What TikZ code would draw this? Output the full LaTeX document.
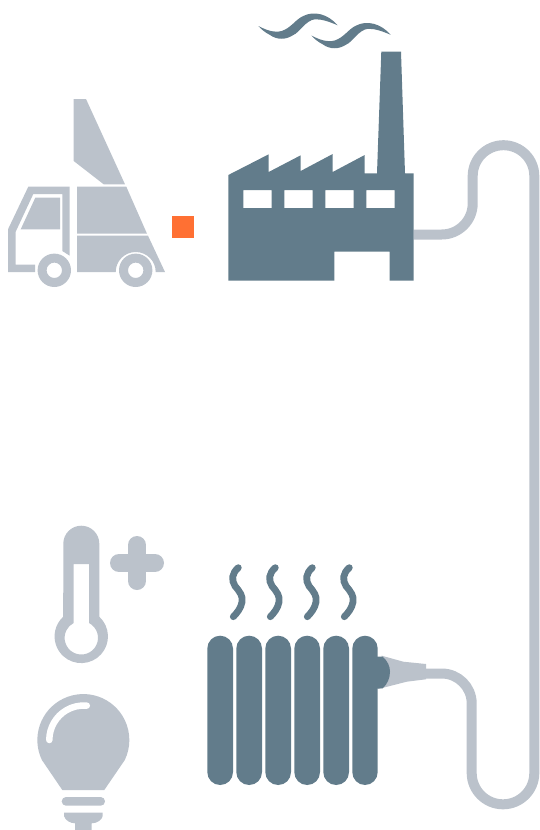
\documentclass[tikz,border=0pt]{standalone}
\definecolor{greyblue}{HTML}{BBC2CB}
\definecolor{slateblue}{HTML}{627C8B}
\definecolor{accent}{HTML}{FF7033}
\tikzset{
  x=1pt,y=1pt,
  lightshape/.style={fill=greyblue,draw=none},
  darkshape/.style={fill=slateblue,draw=none},
  pipeline/.style={draw=greyblue,line width=10pt,line cap=butt},
  heatline/.style={draw=slateblue,line width=6.8pt,line cap=round},
  plusbar/.style={draw=greyblue,line width=18pt,line cap=round},
  smokewave/.pic={\fill[slateblue] (258.3,-26) .. controls (266,-30) and (274,-33) .. (281.7,-31) .. controls (291,-28) and (296,-19) .. (303.3,-16) .. controls (314,-10.5) and (328,-14) .. (337.7,-25.3) .. controls (330,-22) and (322,-19) .. (315,-19.3) .. controls (306,-20) and (299,-33) .. (293.3,-35) .. controls (286,-40) and (277,-40) .. (270,-35) .. controls (265,-32.5) and (261,-29) .. (258.3,-26) -- cycle;},
  steam/.pic={\draw[heatline] (238.3,-567.7) .. controls (232,-573) and (231,-580) .. (235,-586) .. controls (240,-592) and (243,-596) .. (242,-602) .. controls (241,-608) and (237,-613) .. (233.3,-616.7);}
}
\begin{document}
\begin{tikzpicture}
\useasboundingbox (0,0) rectangle (539,-830);
% truck
\fill[lightshape] (73.7,-99) -- (86,-99) -- (125,-184.3) -- (103.7,-184.3) -- (73.7,-161) -- cycle;
\fill[lightshape] (77,-186.7) -- (126.3,-186.7) -- (147,-233.7) -- (77,-233.7) -- cycle;
\fill[lightshape] (77,-235.7) -- (148,-235.7) -- (165,-272) -- (155.7,-272) arc[start angle=0,end angle=180,radius=20pt] -- (77,-272) -- cycle;
\fill[lightshape] (28.3,-186.7) -- (69.7,-186.7) -- (69.7,-255.7) -- (62.3,-251) -- (62.3,-194) -- (33.3,-194) -- (15.7,-231.7) -- (15.7,-264.7) -- (35,-264.7) -- (35,-272) -- (8,-272) -- (8,-229.3) -- cycle;
\fill[lightshape] (35.3,-197.7) -- (60,-197.7) -- (60,-229.3) -- (20.7,-229.3) -- cycle;
\fill[lightshape,even odd rule] (54.3,-270.3) circle[radius=16.7pt] (54.3,-270.3) circle[radius=7.7pt];
\fill[lightshape,even odd rule] (135.7,-270.3) circle[radius=16.7pt] (135.7,-270.3) circle[radius=7.7pt];
% orange square
\fill[accent] (172,-216) rectangle (194,-238);
% pipe
\coordinate (pipeA) at (413.7,-234.5);
\coordinate (pipeB) at (426,-673.5);
\draw[pipeline] (pipeA) -- (441.7,-234.5) arc[start angle=-90,end angle=0,radius=31pt] -- (472.7,-176) arc[start angle=180,end angle=0,radius=30.8pt] -- (534.3,-773) arc[start angle=0,end angle=-180,radius=31.3pt] -- (471.7,-703.5) arc[start angle=0,end angle=90,radius=30pt] -- (pipeB);
% factory
\fill[darkshape,even odd rule] (228.3,-175) -- (268.7,-154.3) -- (268.7,-172) -- (300.7,-155.3) -- (300.7,-171) -- (332.7,-154) -- (332.7,-172) -- (364.7,-155) -- (364.7,-173.3) -- (377,-173.3) -- (381.3,-51.7) -- (401,-51.7) -- (405,-173.3) -- (413.7,-173.3) -- (413.7,-280.7) -- (389.7,-280.7) -- (389.7,-251.7) -- (334.3,-251.7) -- (334.3,-280.7) -- (228.3,-280.7) -- cycle
 (243.3,-190) rectangle (271.7,-208)
 (284.3,-190) rectangle (312.7,-208)
 (325.3,-190) rectangle (353.7,-208)
 (366.3,-190) rectangle (394.7,-208);
\pic at (0,0) {smokewave};
\pic at (53,-9.5) {smokewave};
% radiator
\foreach \xa/\xb in {207.3/233,236.3/262,265.3/291,294.3/320,323.3/349,352.3/377.7}
  \fill[darkshape,rounded corners=12.8pt] (\xa,-635.7) rectangle (\xb,-785);
\foreach \dx in {0,37,74,111}
  \pic at (\dx,0) {steam};
% plug
\fill[lightshape] (381.7,-655.7) -- (403.3,-661.7) -- (426,-664) -- (426,-679.3) -- (406.7,-681.7) -- (378.3,-689) -- cycle;
\fill[darkshape] (377,-656.7) -- (382.7,-656.7) .. controls (387.5,-661) and (390,-666) .. (390,-671.7) .. controls (390,-678) and (387.5,-684) .. (382.7,-688.3) -- (377,-688.6) -- cycle;
% thermometer
\fill[lightshape,even odd rule] (63.3,-543.7) arc[start angle=180,end angle=0,radius=18pt] -- (99.3,-616.7) arc[start angle=47.5,end angle=-227.5,radius=26.7pt] -- cycle
 (73.7,-564) -- (89,-564) -- (89,-623) arc[start angle=62.6,end angle=-242.6,radius=16.7pt] -- cycle;
\draw[plusbar] (119,-563) -- (155,-563);
\draw[plusbar] (137,-545) -- (137,-581);
% bulb
\fill[lightshape] (62.3,-790) -- (41.9,-760) arc[start angle=205.7,end angle=-25.7,radius=46pt] -- (104.3,-790) -- cycle;
\draw[white,line width=6.5pt,line cap=round] (49.3,-740) arc[start angle=180,end angle=85,radius=34.5pt];
\fill[lightshape,rounded corners=4.3pt] (61.7,-797) rectangle (105,-805.7);
\fill[lightshape] (64,-812.7) -- (102.7,-812.7) -- (102.7,-816) .. controls (102,-820) and (97,-823.3) .. (91.7,-823.3) -- (91.7,-830) -- (75,-830) -- (75,-823.3) .. controls (70,-823.3) and (65,-820) .. (64,-816) -- cycle;
\end{tikzpicture}
\end{document}
